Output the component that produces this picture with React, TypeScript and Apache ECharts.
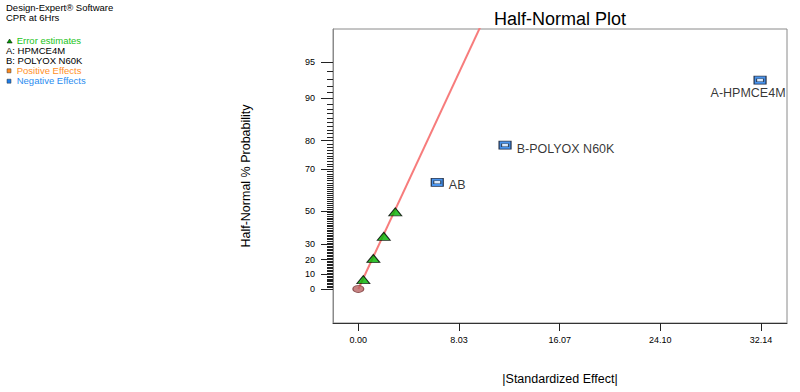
import React, { useEffect, useRef } from 'react';
import * as echarts from 'echarts';

// ---------- data ----------
const effectNames = ['A-HPMCE4M', 'B-POLYOX N60K', 'AB'];
const effectValues = [32.06, 11.71, 6.3];
const effectProbs = [92.86, 78.57, 64.29];

const errorValues = [0.4, 1.2, 2.03, 2.95];
const errorProbs = [7.14, 21.43, 35.71, 50.0];

const positiveValues = [0];
const positiveProbs = [0];

const fitLineValues = [0, 11.08];
const fitLineProbs = [0, 99];

const xTickValues = [0, 8.03, 16.07, 24.1, 32.14];
const yMajorTicks = [0, 10, 20, 30, 50, 70, 80, 90, 95];
const yMinorTicks: number[] = [];
for (let p = 1; p < 95; p++) if (!yMajorTicks.includes(p)) yMinorTicks.push(p);

const legendLines = ['Design-Expert® Software', 'CPR at 6Hrs'];
const factorLines = ['A: HPMCE4M', 'B: POLYOX N60K'];

// ---------- half-normal scale ----------
function normInv(p: number): number {
  const a = [-3.969683028665376e1, 2.209460984245205e2, -2.759285104469687e2, 1.38357751867269e2, -3.066479806614716e1, 2.506628277459239];
  const b = [-5.447609879822406e1, 1.615858368580409e2, -1.556989798598866e2, 6.680131188771972e1, -1.328068155288572e1];
  const c = [-7.784894002430293e-3, -3.223964580411365e-1, -2.400758277161838, -2.549732539343734, 4.374664141464968, 2.938163982698783];
  const d = [7.784695709041462e-3, 3.224671290700398e-1, 2.445134137142996, 3.754408661907416];
  const pl = 0.02425, ph = 1 - pl;
  let q, r;
  if (p < pl) {
    q = Math.sqrt(-2 * Math.log(p));
    return (((((c[0] * q + c[1]) * q + c[2]) * q + c[3]) * q + c[4]) * q + c[5]) / ((((d[0] * q + d[1]) * q + d[2]) * q + d[3]) * q + 1);
  }
  if (p <= ph) {
    q = p - 0.5;
    r = q * q;
    return (((((a[0] * r + a[1]) * r + a[2]) * r + a[3]) * r + a[4]) * r + a[5]) * q / (((((b[0] * r + b[1]) * r + b[2]) * r + b[3]) * r + b[4]) * r + 1);
  }
  q = Math.sqrt(-2 * Math.log(1 - p));
  return -(((((c[0] * q + c[1]) * q + c[2]) * q + c[3]) * q + c[4]) * q + c[5]) / ((((d[0] * q + d[1]) * q + d[2]) * q + d[3]) * q + 1);
}
const hz = (pct: number) => (pct <= 0 ? 0 : normInv(0.5 + pct / 200));

const FONT = 'Liberation Sans, Arial, sans-serif';

export default function App() {
  const ref = useRef<HTMLDivElement>(null);
  useEffect(() => {
    if (!ref.current) return;
    const chart = echarts.init(ref.current, null, { renderer: 'svg' });
    const yMin = -0.294;
    const yMax = 2.245;
    const majorZ = yMajorTicks.map(hz);
    const minorZ = yMinorTicks.map(hz);
    const labelFor = (v: number) => {
      let best = 0;
      majorZ.forEach((z, i) => {
        if (Math.abs(z - v) < Math.abs(majorZ[best] - v)) best = i;
      });
      return String(yMajorTicks[best]);
    };

    const legendGraphics: any[] = [];
    legendLines.forEach((t, i) =>
      legendGraphics.push({ type: 'text', x: 6, y: 7.7 + i * 10, style: { text: t, fill: '#000', font: `9.5px ${FONT}`, textVerticalAlign: 'middle' } })
    );
    legendGraphics.push({ type: 'polygon', shape: { points: [[9.6, 39], [7, 43], [12.2, 43]] }, style: { fill: '#00a000', stroke: '#000', lineWidth: 0.5 } });
    legendGraphics.push({ type: 'text', x: 16.7, y: 40, style: { text: 'Error estimates', fill: '#22c322', font: `9.5px ${FONT}`, textVerticalAlign: 'middle' } });
    factorLines.forEach((t, i) =>
      legendGraphics.push({ type: 'text', x: 6, y: 50 + i * 10, style: { text: t, fill: '#000', font: `9.5px ${FONT}`, textVerticalAlign: 'middle' } })
    );
    legendGraphics.push({ type: 'rect', shape: { x: 7, y: 68.8, width: 4, height: 4 }, style: { fill: '#ff8a1e', stroke: '#333', lineWidth: 0.5 } });
    legendGraphics.push({ type: 'text', x: 16.7, y: 70.3, style: { text: 'Positive Effects', fill: '#ff8f1f', font: `9.5px ${FONT}`, textVerticalAlign: 'middle' } });
    legendGraphics.push({ type: 'rect', shape: { x: 7, y: 79.2, width: 4, height: 4 }, style: { fill: '#1e7ce8', stroke: '#333', lineWidth: 0.5 } });
    legendGraphics.push({ type: 'text', x: 16.7, y: 80.7, style: { text: 'Negative Effects', fill: '#2a8cf0', font: `9.5px ${FONT}`, textVerticalAlign: 'middle' } });
    legendGraphics.push({ type: 'text', x: 560, y: 18.5, style: { text: 'Half-Normal Plot', fill: '#000', font: `18px ${FONT}`, textAlign: 'center', textVerticalAlign: 'middle' } });

    const labelPos: any[] = [
      { position: 'bottom', distance: 2, offset: [-12, 0] },
      { position: 'right', distance: 5, offset: [0, 4] },
      { position: 'right', distance: 5, offset: [0, 3] },
    ];

    const effData = effectValues.map((v, i) => ({
      name: effectNames[i],
      value: [v, hz(effectProbs[i])],
      label: { show: true, formatter: '{b}', color: '#000', fontSize: 12.5, fontFamily: FONT, ...labelPos[i] },
    }));

    chart.setOption({
      animation: false,
      backgroundColor: '#fff',
      textStyle: { fontFamily: FONT },
      graphic: legendGraphics,
      grid: { left: 333, top: 29, right: 13, bottom: 69, show: true, borderColor: '#8a8a8a', borderWidth: 1 },
      xAxis: {
        type: 'value',
        min: -2.02,
        max: 34.21,
        name: '|Standardized Effect|',
        nameLocation: 'middle',
        nameGap: 49,
        nameTextStyle: { fontSize: 12.5, color: '#000', fontFamily: FONT },
        axisLine: { show: true, onZero: false, lineStyle: { color: '#333', width: 1 } },
        axisTick: { show: true, length: 8, customValues: xTickValues, lineStyle: { color: '#222' } },
        axisLabel: { customValues: xTickValues, formatter: (v: number) => v.toFixed(2), fontSize: 9, color: '#000', margin: 12, fontFamily: FONT },
        splitLine: { show: false },
      },
      yAxis: [
        {
          type: 'value',
          min: yMin,
          max: yMax,
          position: 'left',
          name: 'Half-Normal % Probability',
          nameLocation: 'middle',
          nameGap: 81,
          nameRotate: 90,
          nameTextStyle: { fontSize: 12.5, color: '#000', fontFamily: FONT },
          axisLine: { show: true, onZero: false, lineStyle: { color: '#8a8a8a', width: 1 } },
          axisTick: { show: true, length: 12, customValues: majorZ, lineStyle: { color: '#222' } },
          axisLabel: { customValues: majorZ, formatter: (v: number) => labelFor(v), fontSize: 9, color: '#000', margin: 18, fontFamily: FONT },
          splitLine: { show: false },
        },
        {
          type: 'value',
          min: yMin,
          max: yMax,
          position: 'left',
          offset: 0,
          axisLine: { show: false, onZero: false },
          axisTick: { show: true, length: 6, customValues: minorZ, lineStyle: { color: '#222' } },
          axisLabel: { show: false },
          splitLine: { show: false },
        },
      ],
      series: [
        {
          type: 'line',
          data: fitLineValues.map((v, i) => [v, hz(fitLineProbs[i])]),
          symbol: 'none',
          lineStyle: { color: '#f77c7c', width: 2 },
          clip: true,
          z: 1,
        },
        {
          type: 'scatter',
          data: positiveValues.map((v, i) => [v, hz(positiveProbs[i])]),
          symbol: 'circle',
          symbolSize: [11, 7],
          itemStyle: { color: '#b86464', borderColor: '#7a3a3a', borderWidth: 1 },
          z: 3,
        },
        {
          type: 'scatter',
          data: errorValues.map((v, i) => [v, hz(errorProbs[i])]),
          symbol: 'triangle',
          symbolSize: [13, 8],
          symbolOffset: [0, 1],
          itemStyle: { color: '#00b400', borderColor: '#000', borderWidth: 1 },
          z: 3,
        },
        {
          type: 'scatter',
          data: effData,
          symbol: 'rect',
          symbolSize: [12, 8],
          itemStyle: { color: '#1a78e8', borderColor: '#0a1020', borderWidth: 1 },
          z: 3,
        },
        {
          type: 'scatter',
          data: effectValues.map((v, i) => [v, hz(effectProbs[i])]),
          symbol: 'rect',
          symbolSize: [7, 3],
          itemStyle: { color: '#ffffff', borderColor: '#1a2a40', borderWidth: 0.8 },
          z: 4,
          silent: true,
        },
      ],
    });
    return () => chart.dispose();
  }, []);
  return <div ref={ref} style={{ position: 'fixed', left: 0, top: 0, width: 800, height: 392 }} />;
}
